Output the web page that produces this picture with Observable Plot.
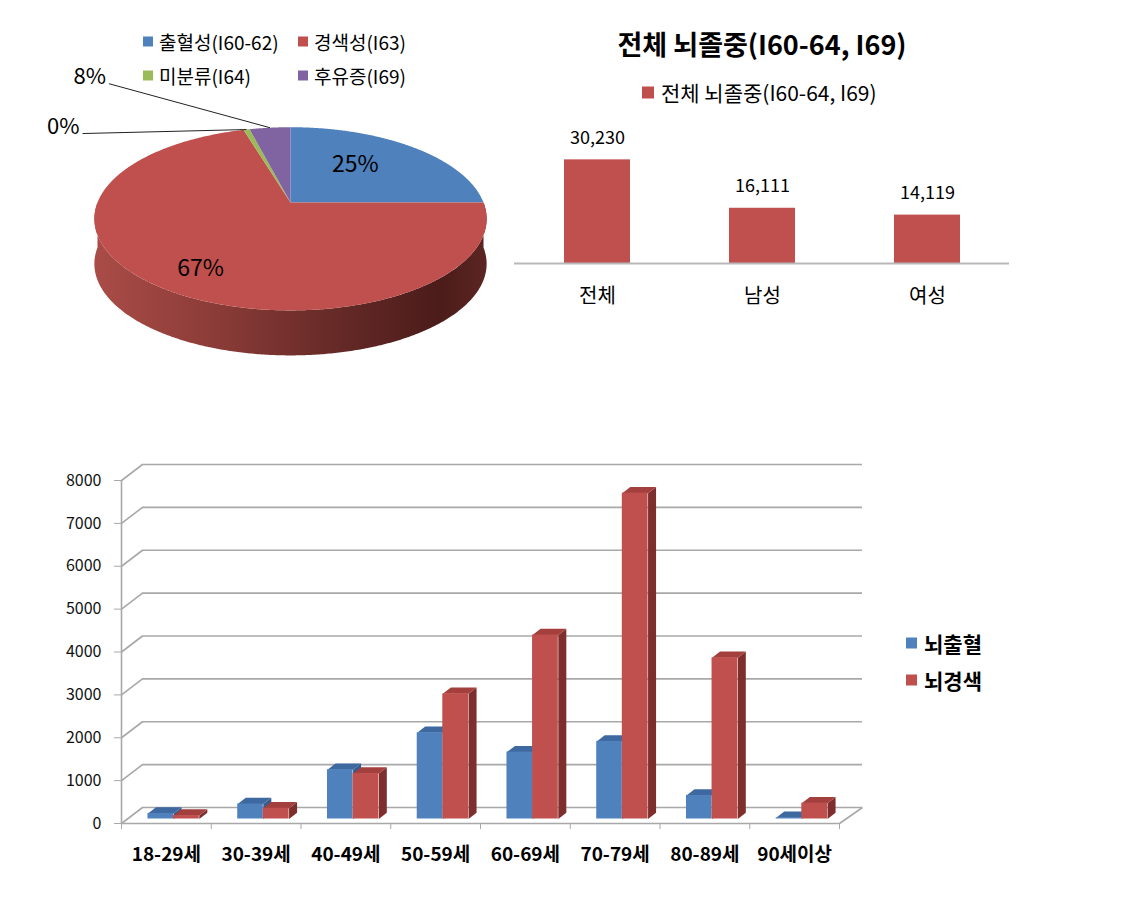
<!DOCTYPE html>
<html><head><meta charset="utf-8">
<script src="https://cdn.jsdelivr.net/npm/d3@7"></script>
<script src="https://cdn.jsdelivr.net/npm/@observablehq/plot@0.6"></script>
<style>
body{margin:0;background:#fff;font-family:"Noto Sans CJK KR","Noto Sans",sans-serif;}
#root{position:relative;width:1125px;height:912px;overflow:hidden;background:#fff;}
.chart{position:absolute;}
.lg{position:absolute;display:flex;align-items:center;white-space:nowrap;color:#000;transform:translateY(-50%);line-height:1;}
.sw{display:inline-block;flex:none;}
.ttl{position:absolute;white-space:nowrap;font-weight:bold;color:#000;transform:translate(-50%,-50%);line-height:1;}
</style></head><body><div id="root"></div>
<script>
// ---------------- data ----------------
const pieCategories = ["출혈성(I60-62)", "경색성(I63)", "미분류(I64)", "후유증(I69)"];
const pieValues = [25, 70.4, 0.6, 4.0];
const pieLabels = ["25%", "67%", "0%", "8%"];
const pieColors = ["#4f81bd", "#c0504d", "#9bbb59", "#8064a2"];

const sexTitle = "전체 뇌졸중(I60-64, I69)";
const sexCategories = ["전체", "남성", "여성"];
const sexValues = [30230, 16111, 14119];

const ageCategories = ["18-29세", "30-39세", "40-49세", "50-59세", "60-69세", "70-79세", "80-89세", "90세이상"];
const hemorrhageValues = [130, 350, 1150, 2010, 1560, 1810, 550, 30];
const infarctionValues = [80, 250, 1060, 2920, 4290, 7600, 3760, 370];
const ageSeries = ["뇌출혈", "뇌경색"];
const ageYTicks = [0, 1000, 2000, 3000, 4000, 5000, 6000, 7000, 8000];

const FONT = '"Noto Sans CJK KR","Noto Sans",sans-serif';
const root = document.getElementById("root");

function place(el, left, top) {
  el.classList.add("chart");
  el.style.left = left + "px";
  el.style.top = top + "px";
  root.appendChild(el);
}
function legendItem(left, cy, color, text, size, fs, bold, gap) {
  const d = document.createElement("div");
  d.className = "lg";
  d.style.left = left + "px";
  d.style.top = cy + "px";
  d.style.fontSize = fs + "px";
  if (bold) d.style.fontWeight = "bold";
  d.innerHTML = `<span class="sw" style="width:${size}px;height:${size}px;background:${color};margin-right:${gap}px"></span><span>${text}</span>`;
  root.appendChild(d);
}

// ---------------- 3D pie ----------------
{
  const P = 0.178;             // perspective strength
  const RX = 193, RY = 88.7;   // projected radii (px)
  const CX = 290, CY = 202;    // pie vertex (px)
  const THICK = 45 / RY;       // side thickness in pie units
  const proj = (t, r) => {
    const X = r * Math.sin(t), D = r * Math.cos(t);
    const s = 1 / (1 + P * D);
    return [X * s, -D * s];
  };
  const arcs = d3.pie().sort(null).startAngle(0).endAngle(2 * Math.PI)(pieValues);
  const step = Math.PI / 360;
  const arcPts = (a0, a1) => {
    const n = Math.max(2, Math.ceil((a1 - a0) / step));
    return d3.range(n + 1).map(k => a0 + (a1 - a0) * k / n);
  };
  const slicePts = [];
  const sidePts = [];
  arcs.forEach((a, i) => {
    slicePts.push({key: i, u: 0, w: 0, color: pieColors[i]});
    for (const t of arcPts(a.startAngle, a.endAngle)) {
      const [u, w] = proj(t, 1);
      slicePts.push({key: i, u, w, color: pieColors[i]});
    }
    const lo = Math.max(a.startAngle, Math.PI / 2), hi = Math.min(a.endAngle, 3 * Math.PI / 2);
    if (lo < hi) {
      const ts = arcPts(lo, hi);
      for (const t of ts) { const [u, w] = proj(t, 1); sidePts.push({key: i, u, w}); }
      for (const t of ts.slice().reverse()) { const [u, w] = proj(t, 1); sidePts.push({key: i, u, w: w + THICK}); }
    }
  });
  const inside = [], outside = [];
  const insideR = {0: 0.58, 1: 0.75};
  const nudge = {0: [-9, -4], 1: [7, 6]};
  const leader = {2: [-164, 4], 3: [-161, -44]};
  arcs.forEach((a, i) => {
    const mid = (a.startAngle + a.endAngle) / 2;
    if (a.value >= 10) {
      const [u, w] = proj(mid, insideR[i] || 0.65);
      const [nx, ny] = nudge[i] || [0, 0];
      inside.push({u: u + nx / RX, w: w + ny / RY, label: pieLabels[i]});
    } else {
      const [u, w] = proj(mid, 1);
      const [ox, oy] = leader[i] || [-160, 0];
      outside.push({u, w, lu: u + ox / RX, lw: w + oy / RY, label: pieLabels[i]});
    }
  });
  const pie = Plot.plot({
    width: 520, height: 380, margin: 0,
    style: {fontFamily: FONT, background: "transparent", overflow: "visible"},
    x: {domain: [-1, 1], range: [CX - RX, CX + RX], axis: null},
    y: {domain: [-1, 1], range: [CY - RY, CY + RY], axis: null},
    color: {type: "identity"},
    marks: [
      Plot.line(sidePts, {x: "u", y: "w", z: "key", fill: "url(#pieSideGrad)", stroke: "none"}),
      Plot.line(slicePts, {x: "u", y: "w", z: "key", fill: "color", stroke: "none"}),
      Plot.text(inside, {x: "u", y: "w", text: "label", fontSize: 23, fill: "#000"}),
      Plot.link(outside, {x1: "u", y1: "w", x2: "lu", y2: "lw", stroke: "#222", strokeWidth: 1}),
      Plot.text(outside, {x: "lu", y: "lw", text: "label", fontSize: 22, fill: "#000", textAnchor: "end", dx: -3, dy: -7})
    ]
  });
  const defs = d3.select(pie).insert("defs", ":first-child");
  const g = defs.append("linearGradient").attr("id", "pieSideGrad").attr("x1", 0).attr("x2", 1).attr("y1", 0).attr("y2", 0);
  [[0, "#aa4c47"], [0.3, "#8c3c38"], [0.65, "#622825"], [0.88, "#4b1c1a"], [1, "#5c2522"]]
    .forEach(([o, c]) => g.append("stop").attr("offset", o).attr("stop-color", c));
  place(pie, 0, 0);

  // pie legend (2 x 2)
  const lx = [143, 298], ly = [41, 75];
  pieCategories.forEach((c, i) => legendItem(lx[i % 2], ly[Math.floor(i / 2)], pieColors[i], c, 10, 19, false, 6));
}

// ---------------- bar chart: total / sex ----------------
{
  const data = sexCategories.map((c, i) => ({c, v: sexValues[i]}));
  const bar = Plot.plot({
    width: 520, height: 190,
    marginLeft: 14, marginRight: 11, marginTop: 13, marginBottom: 57,
    style: {fontFamily: FONT, background: "transparent", overflow: "visible"},
    x: {domain: sexCategories, paddingInner: 0.6, paddingOuter: 0.3, label: null},
    y: {domain: [0, 35000], axis: null},
    marks: [
      Plot.barY(data, {x: "c", y: "v", fill: "#c0504d"}),
      Plot.ruleY([0], {stroke: "#b8b8b8", strokeWidth: 2}),
      Plot.text(data, {x: "c", y: "v", text: d => d3.format(",")(d.v), dy: -22, fontSize: 18, fill: "#000"}),
      Plot.axisX({tickSize: 0, tickPadding: 25, fontSize: 20, fill: "#000", label: null})
    ]
  });
  place(bar, 500, 130);
  const t = document.createElement("div");
  t.className = "ttl";
  t.style.left = "762px"; t.style.top = "43px"; t.style.fontSize = "27px";
  t.textContent = sexTitle;
  root.appendChild(t);
  legendItem(642, 92, "#c0504d", sexTitle, 12, 21, false, 7);
}

// ---------------- 3D clustered column chart by age ----------------
{
  const W = 880, H = 440, ML = 121, MR = 41, MT = 40, MB = 57;
  const n = ageCategories.length;
  const pxX = (W - ML - MR) / n;                 // px per category
  const pxY = (H - MT - MB) / 8000;              // px per unit
  const wallX = 21 / pxX, wallY = 16 / pxY;      // back wall depth in data units
  const wallX2 = 23 / pxX;
  const bx = 8 / pxX, by = 6.2 / pxY;            // bar depth in data units
  const offs = [[0.295, 0.58], [0.58, 0.867]];
  const colors = [
    {front: "#4f81bd", top: "#3d69a0", side: "#385c8a"},
    {front: "#c0504d", top: "#a3403d", side: "#7e2f2d"}
  ];
  const seriesVals = [hemorrhageValues, infarctionValues];
  const barMarks = [];
  seriesVals.forEach((vals, s) => {
    const rows = vals.map((v, i) => ({i, v, x1: i + offs[s][0], x2: i + offs[s][1]}));
    const side = [], top = [];
    rows.forEach(r => {
      side.push({id: r.i, x: r.x2, y: 0}, {id: r.i, x: r.x2 + bx, y: by}, {id: r.i, x: r.x2 + bx, y: r.v + by}, {id: r.i, x: r.x2, y: r.v});
      top.push({id: r.i, x: r.x1, y: r.v}, {id: r.i, x: r.x2, y: r.v}, {id: r.i, x: r.x2 + bx, y: r.v + by}, {id: r.i, x: r.x1 + bx, y: r.v + by});
    });
    barMarks.push(
      Plot.line(side, {x: "x", y: "y", z: "id", fill: colors[s].side, stroke: "none", dy: -4.5}),
      Plot.line(top, {x: "x", y: "y", z: "id", fill: colors[s].top, stroke: "none", dy: -4.5}),
      Plot.rect(rows, {x1: "x1", x2: "x2", y1: 0, y2: "v", fill: colors[s].front, dy: -4.5})
    );
  });
  const grid = "#a8a8a8";
  const chart = Plot.plot({
    width: W, height: H, marginLeft: ML, marginRight: MR, marginTop: MT, marginBottom: MB,
    style: {fontFamily: FONT, background: "transparent", overflow: "visible"},
    x: {domain: [0, n]},
    y: {domain: [0, 8000]},
    marks: [
      Plot.ruleY(ageYTicks, {y: d => d + wallY, x1: wallX, x2: n + wallX2, stroke: grid, strokeWidth: 1.6}),
      Plot.link(ageYTicks, {x1: 0, y1: d => d, x2: wallX, y2: d => d + wallY, stroke: grid, strokeWidth: 1.6}),
      Plot.link([0], {x1: n, y1: 0, x2: n + wallX2, y2: wallY, stroke: grid, strokeWidth: 1.6}),
      Plot.ruleY([0], {x1: 0, x2: n, stroke: grid, strokeWidth: 1.6}),
      Plot.ruleX([0], {y1: 0, y2: 8000, stroke: grid, strokeWidth: 1.6}),
      ...barMarks,
      Plot.axisY({ticks: ageYTicks, tickSize: 7, tickPadding: 13, tickFormat: d3.format("d"), fontSize: 16, stroke: grid, fill: "#111", label: null}),
      Plot.axisX({ticks: d3.range(0, n + 1), tickSize: 6, tickFormat: () => "", stroke: grid, label: null}),
      Plot.axisX({ticks: d3.range(n).map(i => i + 0.5), tickFormat: v => ageCategories[Math.floor(v)], tickSize: 0, tickPadding: 24, fontSize: 19, fontWeight: "bold", fill: "#000", label: null})
    ]
  });
  place(chart, 0, 440);
  legendItem(906, 643, colors[0].front, ageSeries[0], 11, 21, true, 7);
  legendItem(906, 680, colors[1].front, ageSeries[1], 11, 21, true, 7);
}
</script></body></html>
